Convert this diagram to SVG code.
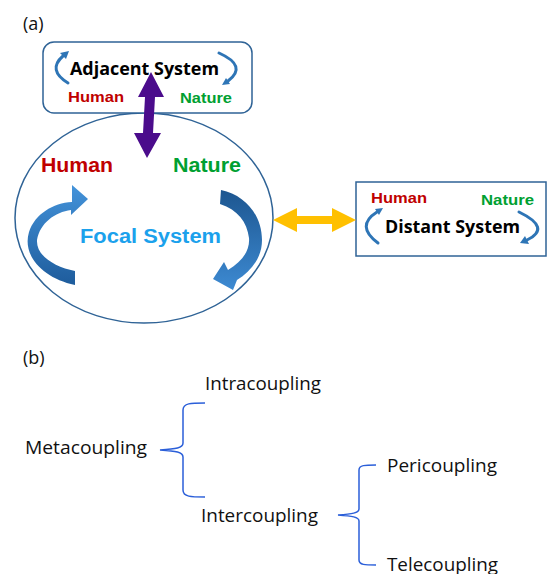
<svg xmlns="http://www.w3.org/2000/svg" width="547" height="574" viewBox="0 0 547 574">
<defs>
<linearGradient id="gL" x1="0" y1="0" x2="0" y2="1"><stop offset="0" stop-color="#4493DA"/><stop offset="1" stop-color="#1E5C9C"/></linearGradient>
<linearGradient id="gR" x1="0" y1="0" x2="0" y2="1"><stop offset="0" stop-color="#1D5690"/><stop offset="1" stop-color="#3D8AD2"/></linearGradient>
<style>
.box{fill:#fff;stroke:#2F6396;stroke-width:1.5}
.lbl{font-family:"Open Sans","Liberation Sans",sans-serif;font-size:18px;fill:#111}
.sys{font-family:"Open Sans","Liberation Sans",sans-serif;font-weight:700;fill:#000}
.b{font-family:"Liberation Sans",Arial,sans-serif;font-weight:700}
.hum{fill:#C00000}
.nat{fill:#00A031}
.sm{fill:none;stroke:#2E75B6;stroke-width:3;stroke-linecap:round}
.smh{fill:#2E75B6}
.brace{fill:none;stroke:#2B5FD9;stroke-width:1.5}
</style>
</defs>
<rect width="547" height="574" fill="#fff"/>

<text class="lbl" x="23" y="30">(a)</text>
<text class="lbl" x="23" y="364">(b)</text>

<g id="focal">
<ellipse cx="144" cy="218" rx="129" ry="105" fill="none" stroke="#2F6396" stroke-width="1.5"/>
<text class="b hum" x="41" y="172" font-size="21" textLength="72" lengthAdjust="spacingAndGlyphs">Human</text>
<text class="b nat" x="173" y="172" font-size="21" textLength="68" lengthAdjust="spacingAndGlyphs">Nature</text>
<text class="b" x="80" y="243" font-size="20" fill="#1BA1EC" textLength="141" lengthAdjust="spacingAndGlyphs">Focal System</text>
<path fill="url(#gL)" d="M75 285 C42 278 22 255 29 232 C35 214 53 203 72 202 L72 185 L88 199 L71 215 L71 210 C55 212 40 223 37 240 C36 256 55 267 75 271 Z"/>
<path fill="url(#gR)" d="M221 190 C245 195 262 215 262 240 C262 258 251 271 237 280 L233 290 L213 279 L224 262 L228 270 C243 261 250 250 249 238 C247 222 238 210 220 204 Z"/>
</g>

<g id="adjacent">
<rect class="box" x="43" y="42" width="209" height="71" rx="11"/>
<text class="sys" x="70" y="75" font-size="18" textLength="149" lengthAdjust="spacingAndGlyphs">Adjacent System</text>
<text class="b hum" x="68" y="102" font-size="14" textLength="56" lengthAdjust="spacingAndGlyphs">Human</text>
<text class="b nat" x="180" y="103" font-size="14" textLength="52" lengthAdjust="spacingAndGlyphs">Nature</text>
<path class="sm" d="M68 83 Q47 70 63 56"/>
<polygon class="smh" points="69,51 66,59 60,53"/>
<path class="sm" d="M219 53 Q248 66 228 81" stroke-width="3.5"/>
<polygon class="smh" points="222,85 230,84 226,78"/>
</g>

<g id="distant">
<rect class="box" x="356" y="182" width="190" height="74"/>
<text class="b hum" x="371" y="203" font-size="14" textLength="56" lengthAdjust="spacingAndGlyphs">Human</text>
<text class="b nat" x="481" y="205" font-size="14" textLength="53" lengthAdjust="spacingAndGlyphs">Nature</text>
<text class="sys" x="385" y="233" font-size="17" textLength="135" lengthAdjust="spacingAndGlyphs">Distant System</text>
<path class="sm" d="M378 243 Q355 226 377 212"/>
<polygon class="smh" points="383,208 379,215 375,209"/>
<path class="sm" d="M519 212 Q552 228 527 240" stroke-width="3.5"/>
<polygon class="smh" points="520,243 529,244 525,236"/>
</g>

<g id="connectors">
<polygon fill="#4B0C8C" points="151,72 164,97 155,97 153,133 161,133 147,158 134,133 143,133 145,97 138,97"/>
<polygon fill="#FFC000" points="273,220 297,208 297,216 332,216 332,208 356,220 332,232 332,224 297,224 297,232"/>
<path class="brace" d="M205 403 C191 403 183 403 183 410 L183 443 C183 448 176 449 160 450 C176 451 183 452 183 457 L183 490 C183 497 191 497 205 497"/>
<path class="brace" d="M376 465 C365 465 359 465 359 470 L359 509 C359 513 352 514 338 515 C352 516 359 517 359 521 L359 560 C359 565 365 565 376 565"/>
</g>

<g id="metacoupling"><text class="lbl" x="25" y="454" textLength="122" lengthAdjust="spacingAndGlyphs">Metacoupling</text></g>
<g id="intracoupling"><text class="lbl" x="205" y="390" textLength="116" lengthAdjust="spacingAndGlyphs">Intracoupling</text></g>
<g id="intercoupling"><text class="lbl" x="201" y="522" textLength="117" lengthAdjust="spacingAndGlyphs">Intercoupling</text></g>
<g id="pericoupling"><text class="lbl" x="387" y="472" textLength="110" lengthAdjust="spacingAndGlyphs">Pericoupling</text></g>
<g id="telecoupling"><text class="lbl" x="387" y="571" textLength="111" lengthAdjust="spacingAndGlyphs">Telecoupling</text></g>
</svg>
